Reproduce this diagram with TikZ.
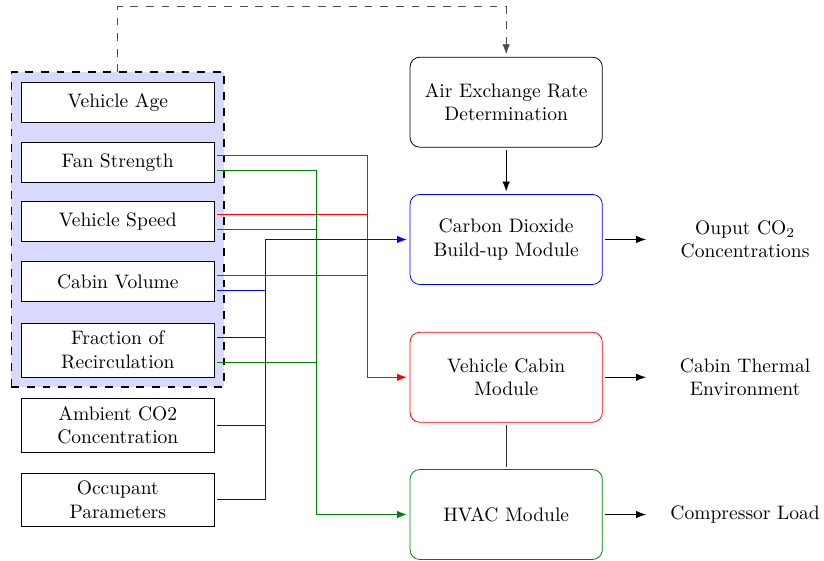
\documentclass[tikz,border=0pt]{standalone}
\usepackage{amsmath,amssymb}
\usepackage{tikz}
\usetikzlibrary{arrows.meta,fit}

\begin{document}
\begin{tikzpicture}[every node/.style={font=\normalsize, outer sep=1.5pt}, >={Latex[length=1.8mm]},
	inbox/.style={draw, fill=white, align=center, minimum width=3.47cm, minimum height=0.72cm},
	module/.style={draw, rounded corners=5pt, align=center, minimum width=3.46cm, minimum height=1.62cm},
	outtext/.style={align=center, minimum width=3.46cm},
	branch/.style={line width=0.45pt},
	trunk/.style={line width=0.75pt, ->},
	loose dash/.style={dash pattern=on 4pt off 4pt}]
	\useasboundingbox (0,0) rectangle (14.83,-10.08);
	% shaded group behind the vehicle parameters
	\node[draw, thick, loose dash, fill=blue!15, inner sep=0pt, outer sep=0pt, fit={(0.205,-1.30) (4.035,-6.965)}] (group) {};
	% input parameters
	\node[inbox] (age) at (2.12,-1.84) {Vehicle Age};
	\node[inbox] (fan) at (2.12,-2.92) {Fan Strength};
	\node[inbox] (speed) at (2.12,-3.98) {Vehicle Speed};
	\node[inbox] (volume) at (2.12,-5.07) {Cabin Volume};
	\node[inbox, minimum height=0.97cm] (frac) at (2.12,-6.30) {Fraction of\\Recirculation};
	\node[inbox, minimum height=0.97cm] (ambient) at (2.12,-7.65) {Ambient CO2\\Concentration};
	\node[inbox, minimum height=0.95cm] (occupant) at (2.12,-8.99) {Occupant\\Parameters};
	% modules
	\node[module] (air) at (9.11,-1.84) {Air Exchange Rate\\Determination};
	\node[module, draw=blue] (co2) at (9.11,-4.31) {Carbon Dioxide\\Build-up Module};
	\node[module, draw=red] (cabin) at (9.11,-6.79) {Vehicle Cabin\\Module};
	\node[module, draw=green!50!black] (hvac) at (9.11,-9.26) {HVAC Module};
	% outputs
	\node[outtext] (outco2) at (13.41,-4.31) {Ouput CO$_2$\\Concentrations};
	\node[outtext] (outcabin) at (13.41,-6.79) {Cabin Thermal\\Environment};
	\node[outtext] (outhvac) at (13.41,-9.26) {Compressor Load};
	% bus lines
	\coordinate (bluebus) at (4.77,-4.31);
	\coordinate (greenbus) at (5.69,-9.26);
	\coordinate (redbus) at (6.61,-6.79);
	\draw[red, branch] ([yshift=3.4pt]fan.east) -| (redbus);
	\draw[red, branch] ([yshift=3.4pt]speed.east) -| (redbus);
	\draw[red, branch] ([yshift=3.4pt]volume.east) -| (redbus);
	\draw[red, trunk] (redbus) -- (cabin.west);
	\draw[green!50!black, branch] ([yshift=-4.3pt]fan.east) -| (greenbus);
	\draw[green!50!black, branch] ([yshift=-4.3pt]speed.east) -| (greenbus);
	\draw[green!50!black, branch] ([yshift=-6.5pt]frac.east) -| (greenbus);
	\draw[green!50!black, trunk] (greenbus) -- (hvac.west);
	\draw[blue, branch] ([yshift=-4.3pt]volume.east) -| (bluebus);
	\draw[blue, branch] ([yshift=6.5pt]frac.east) -| (bluebus);
	\draw[blue, branch] (ambient.east) -| (bluebus);
	\draw[blue, branch] (occupant.east) -| (bluebus);
	\draw[blue, trunk] (bluebus) -- (co2.west);
	% module links
	\draw[black!70, loose dash, ->] (group.north) -- ++(0,1.18) -| (air.north);
	\draw[->] (air) -- (co2);
	\draw[black!80] (cabin) -- (hvac);
	\draw[->] (co2) -- (outco2);
	\draw[->] (cabin) -- (outcabin);
	\draw[->] (hvac) -- (outhvac);
\end{tikzpicture}
\end{document}
